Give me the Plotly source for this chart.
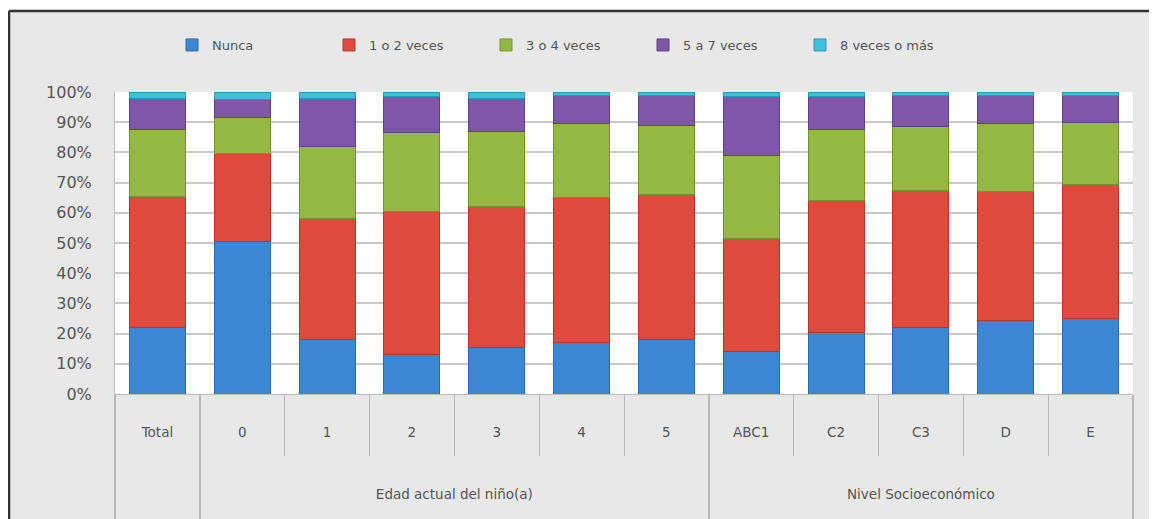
import plotly.graph_objects as go

groups = [" ", "Edad actual del niño(a)", "Edad actual del niño(a)", "Edad actual del niño(a)",
          "Edad actual del niño(a)", "Edad actual del niño(a)", "Edad actual del niño(a)",
          "Nivel Socioeconómico", "Nivel Socioeconómico", "Nivel Socioeconómico",
          "Nivel Socioeconómico", "Nivel Socioeconómico"]
categories = ["Total", "0", "1", "2", "3", "4", "5", "ABC1", "C2", "C3", "D", "E"]

nunca = [22, 50.5, 18, 13, 15.5, 17, 18, 14, 20.5, 22, 24.5, 25]
v1_2 = [43.5, 29, 40, 47.5, 46.5, 48, 48, 37.5, 43.5, 45.5, 42.5, 44.5]
v3_4 = [22, 12, 24, 26, 25, 24.5, 23, 27.5, 23.5, 21, 22.5, 20.5]
v5_7 = [10.5, 6, 16, 12, 11, 9.5, 10, 19.5, 11, 10.5, 9.5, 9]
v8 = [2, 2.5, 2, 1.5, 2, 1, 1, 1.5, 1.5, 1, 1, 1]

series = [
    ("Nunca", nunca, "#3b87d4", "#2a6aae"),
    ("1 o 2 veces", v1_2, "#de4b3d", "#b5372b"),
    ("3 o 4 veces", v3_4, "#93b944", "#74942f"),
    ("5 a 7 veces", v5_7, "#7f57a8", "#5f3f85"),
    ("8 veces o más", v8, "#40bfdc", "#2a9ab4"),
]

# group labels pushed down to a second row (blank lines kept with nbsp)
group_labels = ["&nbsp;<br>&nbsp;<br>&nbsp;<br>&nbsp;<br>" + g + "<br>&nbsp;" for g in groups]

fig = go.Figure()
for name, vals, col, edge in series:
    fig.add_trace(go.Bar(
        name=name, x=[group_labels, categories], y=vals,
        marker=dict(color=col, line=dict(color=edge, width=1)),
    ))

# the page body adds an 8px offset; work in screenshot pixels
OFF = 8
W, H = 1157 - OFF, 519 - OFF
ml, mr, mt, mb = 115 - OFF, 24, 92 - OFF, 125
pw, ph = W - ml - mr, H - mt - mb
def px(x):
    return (x - OFF - ml) / pw
def py(y):
    return (H - mb - (y - OFF)) / ph

fig.update_layout(
    width=W, height=H,
    margin=dict(l=ml, r=mr, t=mt, b=mb, autoexpand=False),
    barmode="stack",
    bargap=0.34,
    paper_bgcolor="#e8e8e8",
    plot_bgcolor="white",
    font=dict(family="DejaVu Sans", size=13, color="#555555"),
    legend=dict(orientation="h", x=px(172), xanchor="left", y=py(45), yanchor="middle",
                font=dict(size=13, color="#555555"), bgcolor="rgba(0,0,0,0)",
                entrywidth=112, itemwidth=30, traceorder="normal"),
    shapes=[
        # white strips outside the frame
        dict(type="rect", xref="paper", yref="paper", x0=px(0), x1=px(1170), y0=py(11), y1=py(-5),
             fillcolor="white", line=dict(width=0), layer="below"),
        dict(type="rect", xref="paper", yref="paper", x0=px(-5), x1=px(9), y0=py(530), y1=py(-5),
             fillcolor="white", line=dict(width=0), layer="below"),
        # frame lines
        dict(type="line", xref="paper", yref="paper", x0=px(9), x1=px(1170), y0=py(11), y1=py(11),
             line=dict(color="#333333", width=2.5)),
        dict(type="line", xref="paper", yref="paper", x0=px(9), x1=px(9), y0=py(11), y1=py(530),
             line=dict(color="#333333", width=2.5)),
    ],
    yaxis=dict(range=[0, 100], tickvals=list(range(0, 101, 10)),
               ticktext=[f"{v}%" for v in range(0, 101, 10)],
               gridcolor="#c9c9c9", gridwidth=1.5, showline=True, linecolor="#bbbbbb",
               tickfont=dict(size=16, color="#555555"), ticks="", zeroline=False,
               ticklabelstandoff=19),
    xaxis=dict(type="multicategory", showgrid=False, showline=True, linecolor="#bbbbbb",
               ticks="outside", tickson="boundaries", ticklen=61, tickcolor="#b8b8b8",
               showdividers=True, dividercolor="#b8b8b8", dividerwidth=1.5,
               ticklabelstandoff=26,
               tickfont=dict(size=13.5, color="#555555")),
)

fig.write_html("out.html")
